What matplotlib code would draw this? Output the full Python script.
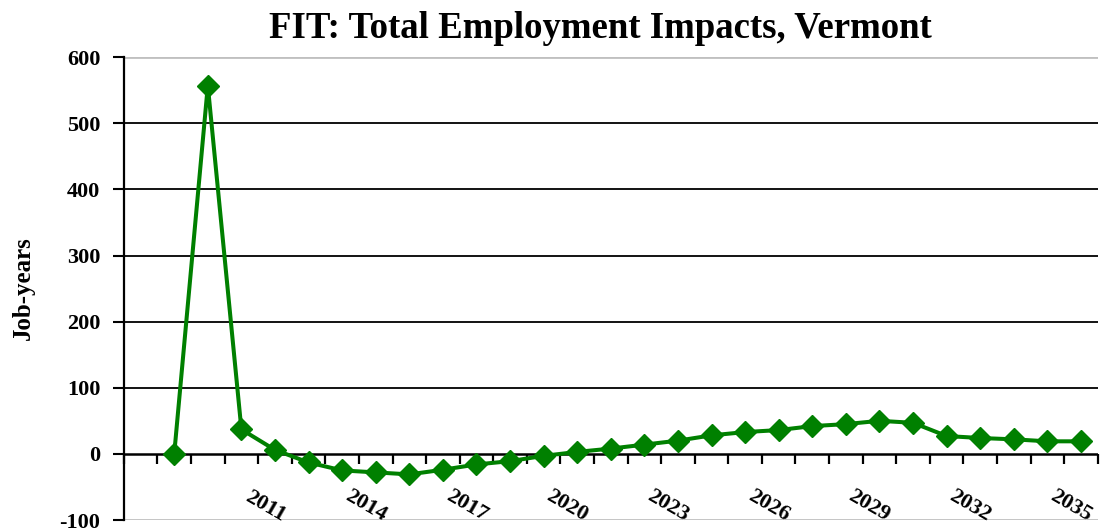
import numpy as np
import matplotlib.pyplot as plt

years = list(range(2008, 2036))
jobs = [0, 557, 37, 6, -13, -25, -28, -31, -24, -16, -11, -3, 3, 8, 14, 20,
        28, 33, 36, 42, 45, 50, 47, 27, 24, 22, 19, 19]
label_years = list(range(2011, 2036, 3))
yticks = list(range(-100, 700, 100))

plt.rcParams['font.family'] = ['Liberation Serif', 'DejaVu Serif']
plt.rcParams['font.weight'] = 'bold'
plt.rcParams['axes.unicode_minus'] = False

fig = plt.figure(figsize=(11.01, 5.29), dpi=100)
ax = fig.add_axes([0.1125, 0.017, 0.8845, 0.875])

ax.set_xlim(years[0] - 1.5, years[-1] + 0.5)
ax.set_ylim(-100, 600)

# gridlines
for v in yticks:
    if v in (-100, 600):
        ax.axhline(v, color='#c0c0c0', lw=2, zorder=1)
    elif v == 0:
        ax.axhline(v, color='black', lw=1.8, zorder=2)
    else:
        ax.axhline(v, color='black', lw=1.3, zorder=1)

ax.plot(years, jobs, color='#008000', lw=2.9, marker='D', markersize=11.5,
        zorder=3, clip_on=False)

# category tick marks hanging below the zero line
bounds = np.arange(years[0] - 1.5, years[-1] + 1.0, 1.0)
ax.plot(bounds, np.zeros_like(bounds), linestyle='none', marker=3,
        markersize=7, markeredgewidth=1.6, color='black', zorder=2, clip_on=False)

for s in ['top', 'right', 'bottom']:
    ax.spines[s].set_visible(False)
ax.spines['left'].set_linewidth(1.6)

ax.set_xticks([])
ax.set_yticks(yticks)
ax.tick_params(axis='y', length=8, width=1.5, labelsize=16, pad=9)
for t in ax.get_yticklabels():
    t.set_fontweight('bold')

for yr in label_years:
    ax.text(yr - 0.3, 0.03, str(yr), transform=ax.get_xaxis_transform(),
            rotation=-30, ha='center', va='center', fontsize=16,
            fontweight='bold', rotation_mode='anchor')

ax.set_ylabel('Job-years', fontsize=18, fontweight='bold', labelpad=18)
fig.text(0.545, 0.947, 'FIT: Total Employment Impacts, Vermont', fontsize=26.5,
         fontweight='bold', ha='center', va='center')

fig.savefig('out.png', dpi=100)
